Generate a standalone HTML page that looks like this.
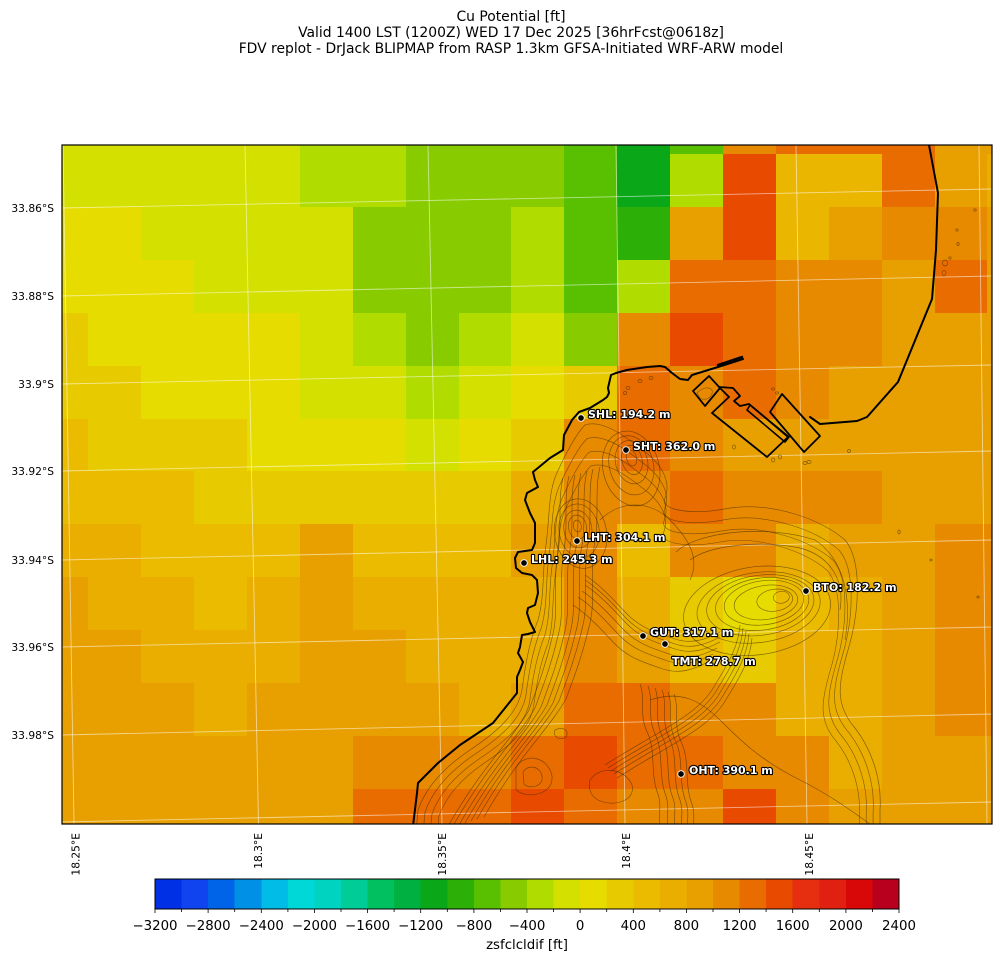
<!DOCTYPE html>
<html><head><meta charset="utf-8"><style>
html,body{margin:0;padding:0;background:#fff;}
svg{display:block;}
text{font-family:"DejaVu Sans","Liberation Sans",sans-serif;}
</style></head><body>
<svg width="1001" height="962" viewBox="0 0 1001 962" xmlns="http://www.w3.org/2000/svg">
<rect width="1001" height="962" fill="#fff"/>
<!-- titles -->
<g font-size="13.9" fill="#000" text-anchor="middle">
<text x="511" y="21">Cu Potential [ft]</text>
<text x="511" y="37">Valid 1400 LST (1200Z) WED 17 Dec 2025 [36hrFcst@0618z]</text>
<text x="511" y="53">FDV replot - DrJack BLIPMAP from RASP 1.3km GFSA-Initiated WRF-ARW model</text>
</g>
<defs>
<clipPath id="pc"><rect x="62" y="145" width="930" height="679"/></clipPath>
<path id="outer" d="M 585,425 C 600,420 620,432 640,448 C 660,462 672,480 665,498 C 660,510 690,516 730,508 C 770,502 820,518 845,540 C 862,560 860,610 848,650 C 838,685 835,705 855,728 C 872,750 882,780 880,810 L 880,900 L 410,900 L 418,810 C 425,790 440,770 470,750 C 500,730 518,712 522,690 C 526,660 530,640 538,620 C 545,595 542,570 546,545 C 550,515 548,495 556,475 C 565,455 575,435 585,425 Z"/>
<path id="ws" d="M 556,480 C 550,505 556,530 550,560 C 546,590 552,615 545,640 C 538,670 530,690 522,712 C 505,742 475,768 440,830"/>
<path id="ridge" d="M 585,575 C 600,585 612,598 625,612 C 640,628 655,632 672,638 C 690,645 705,640 720,632"/>
<path id="oht" d="M 662,690 C 668,705 660,720 670,740 C 678,758 672,780 680,800 C 684,812 680,822 682,830"/>
<path id="bslope" d="M 740,625 C 738,650 725,668 712,690 C 700,708 680,720 660,732 C 640,744 625,752 605,765"/>
</defs>
<g clip-path="url(#pc)" shape-rendering="crispEdges">
<!-- r0 -->
<rect x="62" y="145" width="238" height="9" fill="#d4e000"/><rect x="300" y="145" width="106" height="9" fill="#b0dc00"/><rect x="406" y="145" width="158" height="9" fill="#88cc00"/><rect x="564" y="145" width="53" height="9" fill="#58c000"/><rect x="617" y="145" width="53" height="9" fill="#0aa818"/><rect x="670" y="145" width="53" height="9" fill="#58c000"/><rect x="723" y="145" width="53" height="9" fill="#e88a00"/><rect x="776" y="145" width="159" height="9" fill="#e86c00"/><rect x="935" y="145" width="57" height="9" fill="#e8a000"/>
<!-- r1 -->
<rect x="62" y="154" width="238" height="53" fill="#d4e000"/><rect x="300" y="154" width="106" height="53" fill="#b0dc00"/><rect x="406" y="154" width="158" height="53" fill="#88cc00"/><rect x="564" y="154" width="53" height="53" fill="#58c000"/><rect x="617" y="154" width="53" height="53" fill="#0aa818"/><rect x="670" y="154" width="53" height="53" fill="#b0dc00"/><rect x="723" y="154" width="53" height="53" fill="#e84a00"/><rect x="776" y="154" width="106" height="53" fill="#ebb600"/><rect x="882" y="154" width="53" height="53" fill="#e86c00"/><rect x="935" y="154" width="52" height="53" fill="#e8a000"/><rect x="987" y="154" width="5" height="53" fill="#eaae00"/>
<!-- r2 -->
<rect x="62" y="207" width="79" height="53" fill="#e6dc00"/><rect x="141" y="207" width="212" height="53" fill="#d4e000"/><rect x="353" y="207" width="158" height="53" fill="#88cc00"/><rect x="511" y="207" width="53" height="53" fill="#b0dc00"/><rect x="564" y="207" width="53" height="53" fill="#58c000"/><rect x="617" y="207" width="53" height="53" fill="#2cb008"/><rect x="670" y="207" width="53" height="53" fill="#e8a000"/><rect x="723" y="207" width="53" height="53" fill="#e84a00"/><rect x="776" y="207" width="53" height="53" fill="#ebb600"/><rect x="829" y="207" width="53" height="53" fill="#e8a000"/><rect x="882" y="207" width="105" height="53" fill="#e88a00"/><rect x="987" y="207" width="5" height="53" fill="#e8a000"/>
<!-- r3 -->
<rect x="62" y="260" width="132" height="53" fill="#e6dc00"/><rect x="194" y="260" width="159" height="53" fill="#d4e000"/><rect x="353" y="260" width="158" height="53" fill="#88cc00"/><rect x="511" y="260" width="53" height="53" fill="#b0dc00"/><rect x="564" y="260" width="53" height="53" fill="#58c000"/><rect x="617" y="260" width="53" height="53" fill="#b0dc00"/><rect x="670" y="260" width="106" height="53" fill="#e86c00"/><rect x="776" y="260" width="106" height="53" fill="#e88a00"/><rect x="882" y="260" width="53" height="53" fill="#e8a000"/><rect x="935" y="260" width="52" height="53" fill="#e86c00"/><rect x="987" y="260" width="5" height="53" fill="#e8a000"/>
<!-- r4 -->
<rect x="62" y="313" width="26" height="53" fill="#e8ca00"/><rect x="88" y="313" width="212" height="53" fill="#e6dc00"/><rect x="300" y="313" width="53" height="53" fill="#d4e000"/><rect x="353" y="313" width="53" height="53" fill="#b0dc00"/><rect x="406" y="313" width="53" height="53" fill="#88cc00"/><rect x="459" y="313" width="52" height="53" fill="#b0dc00"/><rect x="511" y="313" width="53" height="53" fill="#d4e000"/><rect x="564" y="313" width="53" height="53" fill="#88cc00"/><rect x="617" y="313" width="53" height="53" fill="#e88a00"/><rect x="670" y="313" width="53" height="53" fill="#e84a00"/><rect x="723" y="313" width="53" height="53" fill="#e86c00"/><rect x="776" y="313" width="106" height="53" fill="#e88a00"/><rect x="882" y="313" width="110" height="53" fill="#e8a000"/>
<!-- r5 -->
<rect x="62" y="366" width="79" height="53" fill="#e8ca00"/><rect x="141" y="366" width="159" height="53" fill="#e6dc00"/><rect x="300" y="366" width="106" height="53" fill="#d4e000"/><rect x="406" y="366" width="53" height="53" fill="#b0dc00"/><rect x="459" y="366" width="52" height="53" fill="#d4e000"/><rect x="511" y="366" width="53" height="53" fill="#e6dc00"/><rect x="564" y="366" width="53" height="53" fill="#e8ca00"/><rect x="617" y="366" width="53" height="53" fill="#e86c00"/><rect x="670" y="366" width="53" height="53" fill="#e88a00"/><rect x="723" y="366" width="53" height="53" fill="#e86c00"/><rect x="776" y="366" width="53" height="53" fill="#e88a00"/><rect x="829" y="366" width="163" height="53" fill="#e8a000"/>
<!-- r6 -->
<rect x="62" y="419" width="26" height="52" fill="#ebbb00"/><rect x="88" y="419" width="159" height="52" fill="#e8ca00"/><rect x="247" y="419" width="159" height="52" fill="#e6dc00"/><rect x="406" y="419" width="53" height="52" fill="#d4e000"/><rect x="459" y="419" width="52" height="52" fill="#e6dc00"/><rect x="511" y="419" width="53" height="52" fill="#e8ca00"/><rect x="564" y="419" width="53" height="52" fill="#e88a00"/><rect x="617" y="419" width="53" height="52" fill="#e86c00"/><rect x="670" y="419" width="53" height="52" fill="#e88a00"/><rect x="723" y="419" width="269" height="52" fill="#e8a000"/>
<!-- r7 -->
<rect x="62" y="471" width="132" height="53" fill="#ebbb00"/><rect x="194" y="471" width="317" height="53" fill="#e8ca00"/><rect x="511" y="471" width="53" height="53" fill="#eaae00"/><rect x="564" y="471" width="106" height="53" fill="#e88a00"/><rect x="670" y="471" width="53" height="53" fill="#e86c00"/><rect x="723" y="471" width="159" height="53" fill="#e88a00"/><rect x="882" y="471" width="110" height="53" fill="#e8a000"/>
<!-- r8 -->
<rect x="62" y="524" width="79" height="53" fill="#eaae00"/><rect x="141" y="524" width="159" height="53" fill="#ebbb00"/><rect x="300" y="524" width="53" height="53" fill="#e8a000"/><rect x="353" y="524" width="158" height="53" fill="#ebbb00"/><rect x="511" y="524" width="53" height="53" fill="#e8a000"/><rect x="564" y="524" width="53" height="53" fill="#e88a00"/><rect x="617" y="524" width="53" height="53" fill="#ebbb00"/><rect x="670" y="524" width="106" height="53" fill="#e88a00"/><rect x="776" y="524" width="53" height="53" fill="#eaae00"/><rect x="829" y="524" width="106" height="53" fill="#e8a000"/><rect x="935" y="524" width="57" height="53" fill="#e88a00"/>
<!-- r9 -->
<rect x="62" y="577" width="26" height="53" fill="#e8a000"/><rect x="88" y="577" width="106" height="53" fill="#eaae00"/><rect x="194" y="577" width="53" height="53" fill="#ebbb00"/><rect x="247" y="577" width="53" height="53" fill="#eaae00"/><rect x="300" y="577" width="53" height="53" fill="#e8a000"/><rect x="353" y="577" width="211" height="53" fill="#eaae00"/><rect x="564" y="577" width="53" height="53" fill="#e88a00"/><rect x="617" y="577" width="53" height="53" fill="#eaae00"/><rect x="670" y="577" width="53" height="53" fill="#e8ca00"/><rect x="723" y="577" width="53" height="53" fill="#e6dc00"/><rect x="776" y="577" width="53" height="53" fill="#ebbb00"/><rect x="829" y="577" width="53" height="53" fill="#eaae00"/><rect x="882" y="577" width="53" height="53" fill="#e8a000"/><rect x="935" y="577" width="57" height="53" fill="#e88a00"/>
<!-- r10 -->
<rect x="62" y="630" width="79" height="53" fill="#e8a000"/><rect x="141" y="630" width="159" height="53" fill="#eaae00"/><rect x="300" y="630" width="106" height="53" fill="#e8a000"/><rect x="406" y="630" width="158" height="53" fill="#eaae00"/><rect x="564" y="630" width="53" height="53" fill="#e88a00"/><rect x="617" y="630" width="53" height="53" fill="#e8a000"/><rect x="670" y="630" width="53" height="53" fill="#ebbb00"/><rect x="723" y="630" width="53" height="53" fill="#e8ca00"/><rect x="776" y="630" width="106" height="53" fill="#eaae00"/><rect x="882" y="630" width="53" height="53" fill="#e8a000"/><rect x="935" y="630" width="57" height="53" fill="#e88a00"/>
<!-- r11 -->
<rect x="62" y="683" width="132" height="53" fill="#e8a000"/><rect x="194" y="683" width="53" height="53" fill="#eaae00"/><rect x="247" y="683" width="212" height="53" fill="#e8a000"/><rect x="459" y="683" width="52" height="53" fill="#eaae00"/><rect x="511" y="683" width="53" height="53" fill="#e8a000"/><rect x="564" y="683" width="106" height="53" fill="#e86c00"/><rect x="670" y="683" width="106" height="53" fill="#e88a00"/><rect x="776" y="683" width="106" height="53" fill="#eaae00"/><rect x="882" y="683" width="53" height="53" fill="#e8a000"/><rect x="935" y="683" width="57" height="53" fill="#e88a00"/>
<!-- r12 -->
<rect x="62" y="736" width="291" height="53" fill="#e8a000"/><rect x="353" y="736" width="158" height="53" fill="#e88a00"/><rect x="511" y="736" width="53" height="53" fill="#e86c00"/><rect x="564" y="736" width="53" height="53" fill="#e84a00"/><rect x="617" y="736" width="106" height="53" fill="#e86c00"/><rect x="723" y="736" width="106" height="53" fill="#e88a00"/><rect x="829" y="736" width="53" height="53" fill="#eaae00"/><rect x="882" y="736" width="110" height="53" fill="#e8a000"/>
<!-- r13 -->
<rect x="62" y="789" width="291" height="35" fill="#e8a000"/><rect x="353" y="789" width="158" height="35" fill="#e86c00"/><rect x="511" y="789" width="53" height="35" fill="#e84a00"/><rect x="564" y="789" width="53" height="35" fill="#e86c00"/><rect x="617" y="789" width="106" height="35" fill="#e88a00"/><rect x="723" y="789" width="53" height="35" fill="#e84a00"/><rect x="776" y="789" width="53" height="35" fill="#e88a00"/><rect x="829" y="789" width="163" height="35" fill="#e8a000"/>
</g>
<!-- gridlines -->
<g clip-path="url(#pc)" stroke="#ffffff" stroke-opacity="0.55" stroke-width="0.9" fill="none">
<line x1="62" y1="208" x2="992" y2="189"/>
<line x1="62" y1="296" x2="992" y2="276"/>
<line x1="62" y1="384" x2="992" y2="365"/>
<line x1="62" y1="471" x2="992" y2="451"/>
<line x1="62" y1="560" x2="992" y2="540"/>
<line x1="62" y1="647" x2="992" y2="627"/>
<line x1="62" y1="735" x2="992" y2="714"/>
<line x1="62" y1="822" x2="992" y2="802"/>
<line x1="63" y1="145" x2="74" y2="824"/>
<line x1="245" y1="145" x2="258.5" y2="824"/>
<line x1="428" y1="145" x2="442" y2="824"/>
<line x1="616" y1="145" x2="625" y2="824"/>
<line x1="796" y1="145" x2="807" y2="824"/>
<line x1="979" y1="145" x2="987" y2="824"/>
</g>
<!-- contours -->
<g clip-path="url(#pc)" fill="none" stroke="#3a2800" stroke-opacity="0.62" stroke-width="0.65">
<use href="#outer"/>
<use href="#outer" transform="translate(650,880) scale(0.97) translate(-650,-880)"/>
<use href="#outer" transform="translate(650,880) scale(0.94) translate(-650,-880)"/>
<use href="#outer" transform="translate(650,880) scale(0.91) translate(-650,-880)"/>
<g transform="rotate(-15 632 460)">
<ellipse cx="632" cy="458" rx="5" ry="8"/><ellipse cx="632" cy="460" rx="10" ry="15"/><ellipse cx="631" cy="462" rx="16" ry="22"/><ellipse cx="630" cy="465" rx="22" ry="30"/><ellipse cx="629" cy="468" rx="28" ry="38"/>
</g>
<g transform="rotate(-10 578 530)">
<ellipse cx="578" cy="526" rx="4" ry="6"/><ellipse cx="578" cy="527" rx="9" ry="12"/><ellipse cx="578" cy="529" rx="14" ry="19"/><ellipse cx="579" cy="531" rx="20" ry="27"/><ellipse cx="580" cy="534" rx="26" ry="35"/>
</g>
<g transform="rotate(-8 762 603)">
<ellipse cx="782" cy="600" rx="8" ry="6"/><ellipse cx="775" cy="602" rx="18" ry="11"/><ellipse cx="766" cy="603" rx="32" ry="17"/><ellipse cx="764" cy="603" rx="40" ry="22"/><ellipse cx="762" cy="604" rx="47" ry="26"/><ellipse cx="760" cy="605" rx="54" ry="30"/><ellipse cx="758" cy="607" rx="62" ry="35"/><ellipse cx="756" cy="610" rx="74" ry="44"/>
</g>
<use href="#ws" transform="translate(7,-2)"/><use href="#ws" transform="translate(13,-4)"/><use href="#ws" transform="translate(19,-5)"/><use href="#ws" transform="translate(25,-7)"/><use href="#ws" transform="translate(31,-9)"/><use href="#ws" transform="translate(37,-11)"/><use href="#ws" transform="translate(44,-13)"/>
<use href="#ridge"/><use href="#ridge" transform="translate(0,5)"/><use href="#ridge" transform="translate(0,10)"/><use href="#ridge" transform="translate(-3,16)"/><use href="#ridge" transform="translate(-7,22)"/><use href="#ridge" transform="translate(-12,30)"/>
<use href="#oht"/><use href="#oht" transform="translate(6,2)"/><use href="#oht" transform="translate(12,4)"/><use href="#oht" transform="translate(-7,-2)"/><use href="#oht" transform="translate(-14,-4)"/><use href="#oht" transform="translate(-22,-6)"/>
<use href="#bslope"/><use href="#bslope" transform="translate(3,3)"/><use href="#bslope" transform="translate(6,6)"/><use href="#bslope" transform="translate(9,9)"/><use href="#bslope" transform="translate(12,13)"/>
<path d="M 523,772 C 528,764 540,766 542,776 C 544,786 530,790 524,784 Z"/><path d="M 516,768 C 524,752 548,756 552,776 C 554,794 528,800 516,790 Z"/>
<path d="M 555,730 C 562,726 570,730 566,737 C 560,741 552,737 555,730 Z"/>
<path d="M 590,780 C 600,765 625,768 632,785 C 636,800 615,808 598,800 C 590,795 588,788 590,780 Z"/>
<path d="M 650,700 C 680,690 700,700 720,720 C 740,740 760,760 800,780 C 830,795 850,810 870,824"/>
<path d="M 690,560 C 710,545 760,540 800,548 C 830,556 845,580 840,610"/>
<path d="M 676,552 C 700,530 770,525 815,540 C 845,560 852,600 845,640"/>
<path d="M 600,520 C 620,500 650,500 670,520 C 690,540 700,560 690,580"/>
<!-- small islands -->
<ellipse cx="628" cy="388" rx="2" ry="1.5"/><ellipse cx="640" cy="381" rx="2" ry="1.5"/><ellipse cx="651" cy="378" rx="2" ry="1.5"/><ellipse cx="625" cy="393" rx="1.5" ry="1.5"/>
<ellipse cx="773" cy="389" rx="1.5" ry="1.2"/><ellipse cx="777" cy="393" rx="1.5" ry="1.2"/><ellipse cx="734" cy="447" rx="1.5" ry="2"/><ellipse cx="773" cy="460" rx="1.8" ry="2"/><ellipse cx="780" cy="457" rx="1.8" ry="2"/>
<ellipse cx="805" cy="463" rx="2" ry="1.5"/><ellipse cx="809" cy="462" rx="2" ry="1.5"/><ellipse cx="849" cy="451" rx="1.5" ry="1.5"/>
<ellipse cx="957" cy="230" rx="1.2" ry="1.2"/><ellipse cx="958" cy="244" rx="1.2" ry="1.5"/><ellipse cx="945" cy="263" rx="2.5" ry="3"/><ellipse cx="944" cy="273" rx="2" ry="2.5"/><ellipse cx="950" cy="258" rx="1.2" ry="1.2"/>
<ellipse cx="975" cy="210" rx="1.2" ry="1.2"/><ellipse cx="931" cy="560" rx="1.2" ry="1"/><ellipse cx="978" cy="597" rx="1.2" ry="1"/><ellipse cx="899" cy="532" rx="1.2" ry="2"/>
</g>
<!-- coastline & harbour -->
<g clip-path="url(#pc)" fill="none" stroke="#000" stroke-width="2" stroke-linejoin="round" stroke-linecap="round">
<path d="M 929,145 L 938,193 L 936,250 L 932,299 L 898,382 L 867,417 L 857,421 L 820,424 L 810,417"/>
<path d="M 413,826 L 417,793 L 418,783 L 438,763 L 460,745 L 493,723 L 517,693 L 517,677 L 520,670 L 523,662 L 518,653 L 520,647 L 522,635 L 528,634 L 535,632 L 530,622 L 527,613 L 528,608 L 535,605 L 538,593 L 537,580 L 532,575 L 522,573 L 516,568 L 515,558 L 518,552 L 532,550 L 535,543 L 535,523 L 530,513 L 525,500 L 527,493 L 538,487 L 535,480 L 533,472 L 550,458 L 563,450 L 564,435 L 572,420 L 579,412 L 590,408 L 603,400 L 607,397 L 609,393 L 608,388 L 611,375 L 616,373 L 627,370 L 647,367 L 660,366 L 665,367 L 672,373 L 680,379 L 688,380 L 692,375 L 718,367 L 743,359"/>
<path d="M 718,365 L 742,357" stroke-width="2.4"/>
<path d="M 693,391 L 709,376 L 720,388 L 705,406 Z" stroke-width="1.8"/>
<path d="M 712,413 L 729,397 L 719,387 L 733,388 L 740,396 L 734,401 L 740,406 L 749,404 L 788,437 L 767,457 Z" stroke-width="1.8"/>
<path d="M 750,405 L 789,437 L 785,442 L 747,410 Z" stroke-width="1.6"/>
<path d="M 782,394 L 820,436 L 804,452 L 770,412 Z" stroke-width="1.8"/>
</g>
<path d="M 697,393 C 702,388 708,386 712,390 C 714,396 706,402 700,398 Z" fill="none" stroke="#3a2800" stroke-opacity="0.6" stroke-width="0.6"/>
<!-- plot border -->
<rect x="62" y="145" width="930" height="679" fill="none" stroke="#000" stroke-width="1.2"/>
<!-- station markers -->
<g fill="#000" stroke="#fff" stroke-width="0.9">
<circle cx="581" cy="418" r="3.3"/><circle cx="626" cy="450" r="3.3"/><circle cx="577" cy="541" r="3.3"/><circle cx="524" cy="563" r="3.3"/><circle cx="806" cy="591" r="3.3"/><circle cx="643" cy="636" r="3.3"/><circle cx="665" cy="644" r="3.3"/><circle cx="681" cy="774" r="3.3"/>
</g>
<g font-size="11" font-weight="bold" fill="#fff" stroke="#000" stroke-width="2.2" paint-order="stroke" stroke-linejoin="round">
<text x="588" y="418">SHL: 194.2 m</text>
<text x="633" y="450">SHT: 362.0 m</text>
<text x="584" y="541">LHT: 304.1 m</text>
<text x="531" y="563">LHL: 245.3 m</text>
<text x="813" y="591">BTO: 182.2 m</text>
<text x="650" y="636">GUT: 317.1 m</text>
<text x="672" y="665">TMT: 278.7 m</text>
<text x="689" y="774">OHT: 390.1 m</text>
</g>
<!-- y tick labels -->
<g font-size="10.67" fill="#000" text-anchor="end">
<text x="54" y="212">33.86°S</text>
<text x="54" y="300">33.88°S</text>
<text x="54" y="388">33.9°S</text>
<text x="54" y="475">33.92°S</text>
<text x="54" y="564">33.94°S</text>
<text x="54" y="651">33.96°S</text>
<text x="54" y="739">33.98°S</text>
</g>
<!-- x tick labels (rotated) -->
<g font-size="10.67" fill="#000" text-anchor="end">
<text transform="translate(79.5,833) rotate(-90)">18.25°E</text>
<text transform="translate(262,833) rotate(-90)">18.3°E</text>
<text transform="translate(446,833) rotate(-90)">18.35°E</text>
<text transform="translate(630,833) rotate(-90)">18.4°E</text>
<text transform="translate(813,833) rotate(-90)">18.45°E</text>
</g>
<!-- colorbar -->
<g shape-rendering="crispEdges">
<rect x="155" y="879" width="27" height="30" fill="#0030e6"/>
<rect x="181.6" y="879" width="27" height="30" fill="#1044ee"/>
<rect x="208.1" y="879" width="27" height="30" fill="#0064e8"/>
<rect x="234.7" y="879" width="27" height="30" fill="#0090e6"/>
<rect x="261.3" y="879" width="27" height="30" fill="#00bce6"/>
<rect x="287.9" y="879" width="27" height="30" fill="#00d8d8"/>
<rect x="314.4" y="879" width="27" height="30" fill="#00d4c0"/>
<rect x="341" y="879" width="27" height="30" fill="#00cc98"/>
<rect x="367.6" y="879" width="27" height="30" fill="#00c060"/>
<rect x="394.1" y="879" width="27" height="30" fill="#00b040"/>
<rect x="420.7" y="879" width="27" height="30" fill="#0aa818"/>
<rect x="447.3" y="879" width="27" height="30" fill="#2cb008"/>
<rect x="473.9" y="879" width="27" height="30" fill="#58c000"/>
<rect x="500.4" y="879" width="27" height="30" fill="#88cc00"/>
<rect x="527" y="879" width="27" height="30" fill="#b0dc00"/>
<rect x="553.6" y="879" width="27" height="30" fill="#d4e000"/>
<rect x="580.1" y="879" width="27" height="30" fill="#e6dc00"/>
<rect x="606.7" y="879" width="27" height="30" fill="#e8ca00"/>
<rect x="633.3" y="879" width="27" height="30" fill="#ebbb00"/>
<rect x="659.9" y="879" width="27" height="30" fill="#eaae00"/>
<rect x="686.4" y="879" width="27" height="30" fill="#e8a000"/>
<rect x="713" y="879" width="27" height="30" fill="#e88a00"/>
<rect x="739.6" y="879" width="27" height="30" fill="#e86c00"/>
<rect x="766.1" y="879" width="27" height="30" fill="#e84a00"/>
<rect x="792.7" y="879" width="27" height="30" fill="#e62e10"/>
<rect x="819.3" y="879" width="27" height="30" fill="#e02010"/>
<rect x="845.9" y="879" width="27" height="30" fill="#d80808"/>
<rect x="872.4" y="879" width="26.6" height="30" fill="#b8001e"/>
</g>
<rect x="155" y="879" width="744" height="30" fill="none" stroke="#000" stroke-width="1"/>
<g stroke="#000" stroke-width="0.8">
<line x1="155" y1="909" x2="155" y2="913"/><line x1="181.6" y1="909" x2="181.6" y2="912"/><line x1="208.1" y1="909" x2="208.1" y2="913"/><line x1="234.7" y1="909" x2="234.7" y2="912"/><line x1="261.3" y1="909" x2="261.3" y2="913"/><line x1="287.9" y1="909" x2="287.9" y2="912"/><line x1="314.4" y1="909" x2="314.4" y2="913"/><line x1="341" y1="909" x2="341" y2="912"/><line x1="367.6" y1="909" x2="367.6" y2="913"/><line x1="394.1" y1="909" x2="394.1" y2="912"/><line x1="420.7" y1="909" x2="420.7" y2="913"/><line x1="447.3" y1="909" x2="447.3" y2="912"/><line x1="473.9" y1="909" x2="473.9" y2="913"/><line x1="500.4" y1="909" x2="500.4" y2="912"/><line x1="527" y1="909" x2="527" y2="913"/><line x1="553.6" y1="909" x2="553.6" y2="912"/><line x1="580.1" y1="909" x2="580.1" y2="913"/><line x1="606.7" y1="909" x2="606.7" y2="912"/><line x1="633.3" y1="909" x2="633.3" y2="913"/><line x1="659.9" y1="909" x2="659.9" y2="912"/><line x1="686.4" y1="909" x2="686.4" y2="913"/><line x1="713" y1="909" x2="713" y2="912"/><line x1="739.6" y1="909" x2="739.6" y2="913"/><line x1="766.1" y1="909" x2="766.1" y2="912"/><line x1="792.7" y1="909" x2="792.7" y2="913"/><line x1="819.3" y1="909" x2="819.3" y2="912"/><line x1="845.9" y1="909" x2="845.9" y2="913"/><line x1="872.4" y1="909" x2="872.4" y2="912"/><line x1="899" y1="909" x2="899" y2="913"/>
</g>
<g font-size="13.33" fill="#000" text-anchor="middle">
<text x="155" y="930">−3200</text>
<text x="208.1" y="930">−2800</text>
<text x="261.3" y="930">−2400</text>
<text x="314.4" y="930">−2000</text>
<text x="367.6" y="930">−1600</text>
<text x="420.7" y="930">−1200</text>
<text x="473.9" y="930">−800</text>
<text x="527" y="930">−400</text>
<text x="580.1" y="930">0</text>
<text x="633.3" y="930">400</text>
<text x="686.4" y="930">800</text>
<text x="739.6" y="930">1200</text>
<text x="792.7" y="930">1600</text>
<text x="845.9" y="930">2000</text>
<text x="899" y="930">2400</text>
<text x="527" y="949">zsfclcldif [ft]</text>
</g>
</svg>
</body></html>
